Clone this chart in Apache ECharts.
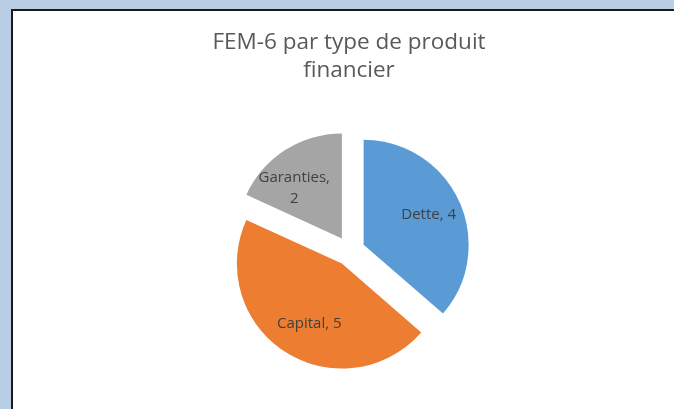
<!DOCTYPE html>
<html>
<head>
<meta charset="utf-8">
<script src="https://cdn.jsdelivr.net/npm/echarts@6/dist/echarts.min.js"></script>
<style>
  html, body { margin: 0; padding: 0; width: 674px; height: 409px; overflow: hidden; background: #b9cde5; }
  #frame { position: absolute; left: 11px; top: 9px; right: 0; bottom: 0; background: #fff;
           border-left: 2px solid #1a1a1a; border-top: 2px solid #1a1a1a; }
  /* décalé de 12px pour que le titre soit centré comme dans l'original */
  #main { position: absolute; left: 12px; top: 0; width: 674px; height: 409px; }
</style>
</head>
<body>
<div id="frame"></div>
<div id="main"></div>
<script>
  // données
  const chartTitle = 'FEM-6 par type de produit\nfinancier'
  const categories = ['Dette', 'Capital', 'Garanties']
  const values = [4, 5, 2]
  const colors = ['#5b9bd5', '#ed7d31', '#a5a5a5']

  const chart = echarts.init(document.getElementById('main'))

  const center = [338, 251]
  const radius = 105
  const offset = 15

  const slices = categories.map((name, i) => ({
    name: name,
    value: values[i],
    selected: true,
    itemStyle: { color: colors[i] }
  }))

  // le padding sert à décaler un peu le texte, comme les étiquettes d'Excel
  const labelPad = { Dette: 0, Capital: [0, 0, 0, 12], Garanties: [0, 18, 0, 0] }

  // seconde série transparente, juste pour placer les étiquettes plus loin du centre
  const labels = categories.map((name, i) => ({
    name: name,
    value: values[i],
    selected: true,
    // ligne vide en tête pour descendre le texte de Garanties
    label: name === 'Garanties'
      ? { formatter: '\n{b},\n{c}', padding: labelPad[name] }
      : { padding: labelPad[name] }
  }))

  chart.setOption({
    animation: false,
    title: {
      text: chartTitle,
      left: 'center',
      top: 24,
      textStyle: {
        fontFamily: 'Open Sans',
        fontSize: 22.5,
        fontWeight: 'normal',
        color: '#595959',
        lineHeight: 28
      }
    },
    series: [
      {
        type: 'pie',
        center: center,
        radius: radius,
        startAngle: 90,
        clockwise: true,
        selectedMode: 'multiple',
        selectedOffset: offset,
        label: { show: false },
        labelLine: { show: false },
        emphasis: { disabled: true },
        data: slices
      },
      {
        type: 'pie',
        silent: true,
        center: center,
        radius: [32, radius],
        startAngle: 90,
        clockwise: true,
        selectedMode: 'multiple',
        selectedOffset: offset,
        itemStyle: { color: 'rgba(0,0,0,0)', borderWidth: 0 },
        emphasis: { disabled: true },
        label: {
          show: true,
          position: 'inner',
          formatter: '{b}, {c}',
          fontFamily: 'Open Sans',
          fontSize: 15,
          color: '#404040',
          lineHeight: 21
        },
        labelLine: { show: false },
        data: labels
      }
    ]
  })
</script>
</body>
</html>
